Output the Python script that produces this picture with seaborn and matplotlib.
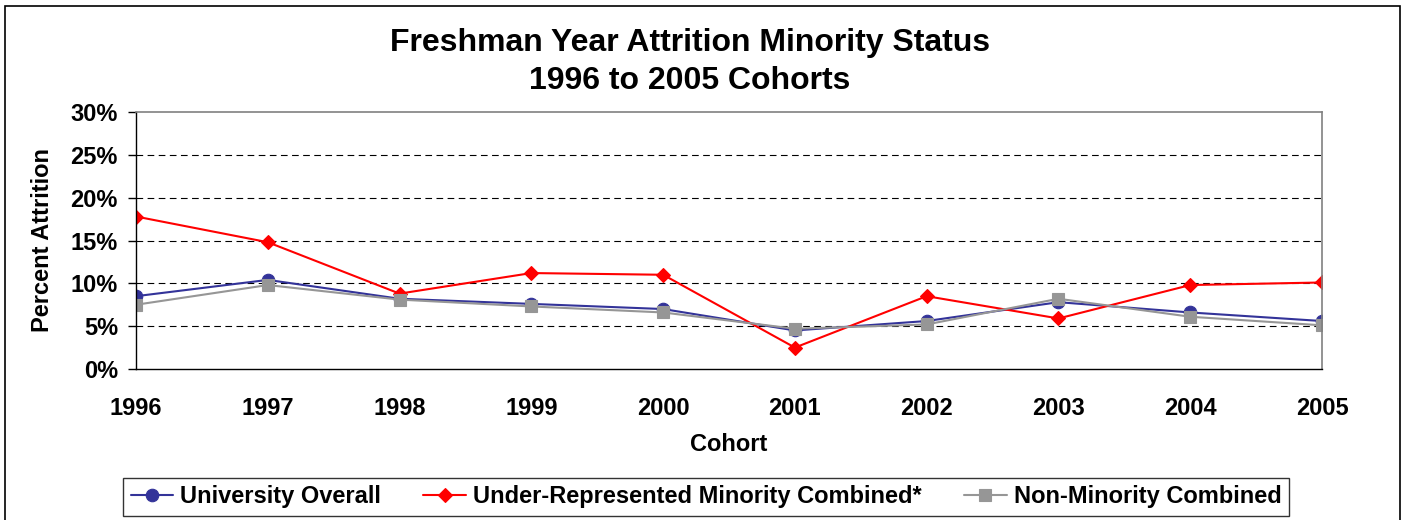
import numpy as np
import pandas as pd
import matplotlib
matplotlib.use('Agg')
import matplotlib.pyplot as plt
import matplotlib.patches as mpatches
from matplotlib.ticker import PercentFormatter
import seaborn as sns

# данные (значения в процентах)
cohorts = [1996, 1997, 1998, 1999, 2000, 2001, 2002, 2003, 2004, 2005]
university_overall = [8.5, 10.4, 8.2, 7.6, 7.0, 4.5, 5.6, 7.8, 6.6, 5.6]
urm_combined = [17.8, 14.8, 8.8, 11.2, 11.0, 2.5, 8.5, 5.9, 9.8, 10.1]
non_minority = [7.5, 9.8, 8.1, 7.3, 6.6, 4.7, 5.2, 8.2, 6.1, 5.1]

series_names = ['University Overall', 'Under-Represented Minority Combined*',
                'Non-Minority Combined']
y_ticks = [0, 5, 10, 15, 20, 25, 30]

sns.set_style('white')
plt.rcParams['font.family'] = ['Liberation Sans', 'DejaVu Sans']
plt.rcParams['font.weight'] = 'bold'
plt.rcParams['text.color'] = 'black'
plt.rcParams['axes.labelcolor'] = 'black'
plt.rcParams['axes.labelweight'] = 'bold'

df = pd.DataFrame({
    'Cohort': cohorts * 3,
    'Attrition': university_overall + urm_combined + non_minority,
    'Series': np.repeat(series_names, len(cohorts)),
})

styles = {
    'University Overall': dict(color='#333399', marker='o', ms=9),
    'Under-Represented Minority Combined*': dict(color='#FF0000', marker='D', ms=7.5),
    'Non-Minority Combined': dict(color='#969696', marker='s', ms=8.5),
}

fig = plt.figure(figsize=(14.05, 5.2), dpi=100)
ax = fig.add_axes([136 / 1405, 1 - 369 / 520, (1322 - 136) / 1405, (369 - 112) / 520])

for name in series_names:
    st = styles[name]
    sns.lineplot(data=df[df['Series'] == name], x='Cohort', y='Attrition', ax=ax,
                 color=st['color'], marker=st['marker'], markersize=st['ms'],
                 markeredgecolor=st['color'], markeredgewidth=0.8,
                 linewidth=1.5, label=name)

ax.set_xlim(cohorts[0], cohorts[-1])
ax.set_ylim(0, 30)
ax.set_xticks(cohorts)
ax.set_xticklabels([str(c) for c in cohorts])
ax.set_yticks(y_ticks)
ax.yaxis.set_major_formatter(PercentFormatter(decimals=0))

for yv in y_ticks[1:-1]:
    ax.axhline(yv, color='black', lw=0.8, ls=(0, (6, 4)), zorder=0)

for s in ['left', 'bottom']:
    ax.spines[s].set_color('black')
    ax.spines[s].set_linewidth(1.0)
for s in ['top', 'right']:
    ax.spines[s].set_color('#808080')
    ax.spines[s].set_linewidth(1.2)

ax.tick_params(axis='x', direction='inout', length=10, width=1, pad=15,
               labelsize=17, colors='black')
ax.tick_params(axis='y', direction='out', length=6, width=1, pad=7,
               labelsize=17, colors='black', left=True)
ax.set_xlabel('Cohort', fontsize=17, fontweight='bold', labelpad=9.5)
ax.set_ylabel('Percent Attrition', fontsize=17, fontweight='bold', labelpad=12)

fig.text(690 / 1405, 1 - 62 / 520,
         'Freshman Year Attrition Minority Status\n1996 to 2005 Cohorts',
         ha='center', va='center', fontsize=23, fontweight='bold',
         linespacing=1.35, color='black')

handles, labels = ax.get_legend_handles_labels()
ax.get_legend().remove()
leg = fig.legend(handles, labels, loc='center', ncol=3,
                 bbox_to_anchor=(706 / 1405, 1 - 497 / 520),
                 prop={'size': 17, 'weight': 'bold'},
                 frameon=True, fancybox=False, edgecolor='black',
                 handlelength=1.8, handletextpad=0.3, columnspacing=1.8,
                 borderpad=0.3, borderaxespad=0)
leg.get_frame().set_linewidth(1.0)

# внешняя рамка
fig.patches.append(mpatches.Rectangle((5 / 1405, -0.05), 1395 / 1405, 1.05 - 6 / 520,
                                      transform=fig.transFigure, fill=False,
                                      edgecolor='black', lw=1.2))

fig.savefig('out.png', dpi=100)
